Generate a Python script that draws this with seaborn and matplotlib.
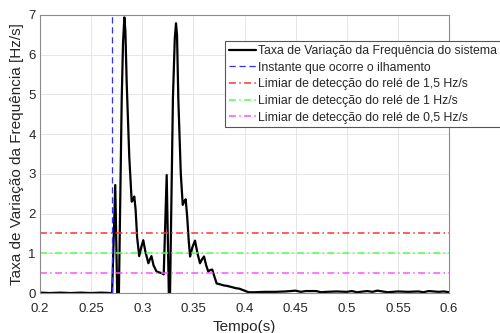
import matplotlib
matplotlib.use("Agg")
import matplotlib.pyplot as plt
import seaborn as sns
import pandas as pd

# ---- data ----
tempo = [0.200, 0.210, 0.220, 0.230, 0.240, 0.250, 0.260, 0.270, 0.2705,
         0.2736, 0.2757, 0.2770, 0.2799, 0.2812, 0.2825, 0.2835, 0.2848, 0.2873,
         0.2897, 0.2910, 0.2922, 0.2935, 0.2950, 0.2970, 0.2990, 0.3010, 0.3030,
         0.3060, 0.3075, 0.3090, 0.3110, 0.3140, 0.3165, 0.3190, 0.3210, 0.3239,
         0.3262, 0.3270, 0.3300, 0.3318, 0.3330, 0.3340, 0.3353, 0.3377, 0.3396,
         0.3410, 0.3425, 0.3440, 0.3455, 0.3468, 0.3490, 0.3516, 0.3540, 0.3565,
         0.3585, 0.3604, 0.3625, 0.3646, 0.3665, 0.3685, 0.3705, 0.3728, 0.376,
         0.380, 0.383, 0.386, 0.389, 0.392, 0.395, 0.398, 0.401, 0.404,
         0.41, 0.42, 0.43, 0.44, 0.45, 0.455, 0.46, 0.47, 0.475, 0.48, 0.49,
         0.50, 0.505, 0.51, 0.52, 0.525, 0.53, 0.54, 0.55, 0.56, 0.57, 0.575,
         0.58, 0.59, 0.595, 0.60]
taxa = [0.01, 0.00, 0.01, 0.00, 0.01, 0.00, 0.01, 0.00, 0.00,
        2.72, -0.3, -0.3, 4.86, 6.30, 6.94, 6.60, 5.28, 3.43,
        2.30, 2.35, 2.43, 2.10, 1.40, 0.93, 1.15, 1.33, 1.05,
        0.75, 0.85, 0.93, 0.70, 0.54, 0.52, 0.50, 0.47, 2.97,
        -0.3, -0.3, 4.90, 6.40, 6.79, 6.50, 4.86, 3.00, 2.22,
        2.30, 2.36, 1.90, 1.30, 0.92, 1.15, 1.32, 1.00, 0.75,
        0.85, 0.92, 0.70, 0.54, 0.58, 0.59, 0.42, 0.24, 0.22,
        0.19, 0.18, 0.16, 0.14, 0.12, 0.11, 0.08, 0.05, 0.02,
        0.02, 0.03, 0.03, 0.04, 0.06, 0.03, 0.05, 0.05, 0.02, 0.03, 0.04,
        0.03, 0.05, 0.02, 0.05, 0.03, 0.06, 0.02, 0.04, 0.03, 0.04, 0.02,
        0.05, 0.03, 0.04, 0.02]
instante_ilhamento = [0.27]
limiares = [1.5, 1.0, 0.5]
rotulos = ["Taxa de Variação da Frequência do sistema",
           "Instante que ocorre o ilhamento",
           "Limiar de detecção do relé de 1,5 Hz/s",
           "Limiar de detecção do relé de 1 Hz/s",
           "Limiar de detecção do relé de 0,5 Hz/s"]
xticks = [0.2, 0.25, 0.3, 0.35, 0.4, 0.45, 0.5, 0.55, 0.6]
yticks = [0, 1, 2, 3, 4, 5, 6, 7]

sns.set_theme(style="whitegrid")
plt.rcParams['font.family'] = ['Liberation Sans', 'DejaVu Sans']

fig = plt.figure(figsize=(5, 3.33), dpi=100)
ax = fig.add_axes([0.08, 0.12, 0.818, 0.835])

df = pd.DataFrame({"t": tempo, "r": taxa})
sns.lineplot(data=df, x="t", y="r", ax=ax, color="black", linewidth=1.6,
             label=rotulos[0], sort=False, estimator=None)
ax.axvline(instante_ilhamento[0], color="#3030ff", linestyle=(0, (5, 3)),
           linewidth=0.9, label=rotulos[1])
cores = ["#ff3030", "#50ff50", "#ff50ff"]
for v, c, lab in zip(limiares, cores, rotulos[2:]):
    ax.axhline(v, color=c, linestyle=(0, (4.5, 2.2, 1, 2.2)), linewidth=1.1,
               label=lab)

ax.set_xlim(0.2, 0.6)
ax.set_ylim(0, 7)
ax.set_xticks(xticks)
ax.set_xticklabels([f"{x:g}" for x in xticks])
ax.set_yticks(yticks)
ax.set_xlabel("Tempo(s)", fontsize=11, color="#262626", labelpad=4)
ax.set_ylabel("Taxa de Variação da Frequência [Hz/s]", fontsize=11,
              color="#262626", labelpad=3)
ax.tick_params(axis="both", labelsize=9.5, colors="#262626", direction="in",
               length=3, pad=3, width=0.6)
ax.tick_params(axis="x", pad=7)
ax.set_facecolor("white")
ax.grid(True, color="#e6e6e6", linewidth=0.7)
for s in ax.spines.values():
    s.set_color("#8c8c8c")
    s.set_linewidth(0.8)

leg = ax.legend(loc="upper left", bbox_to_anchor=(0.45, 0.876),
                bbox_transform=fig.transFigure, borderaxespad=0,
                fontsize=8.8, frameon=True, fancybox=False, framealpha=1,
                edgecolor="#555555", handlelength=2.2, handletextpad=0.2,
                labelspacing=0.38, borderpad=0.3)
leg.get_frame().set_linewidth(0.8)

fig.savefig("out.png", dpi=100)
